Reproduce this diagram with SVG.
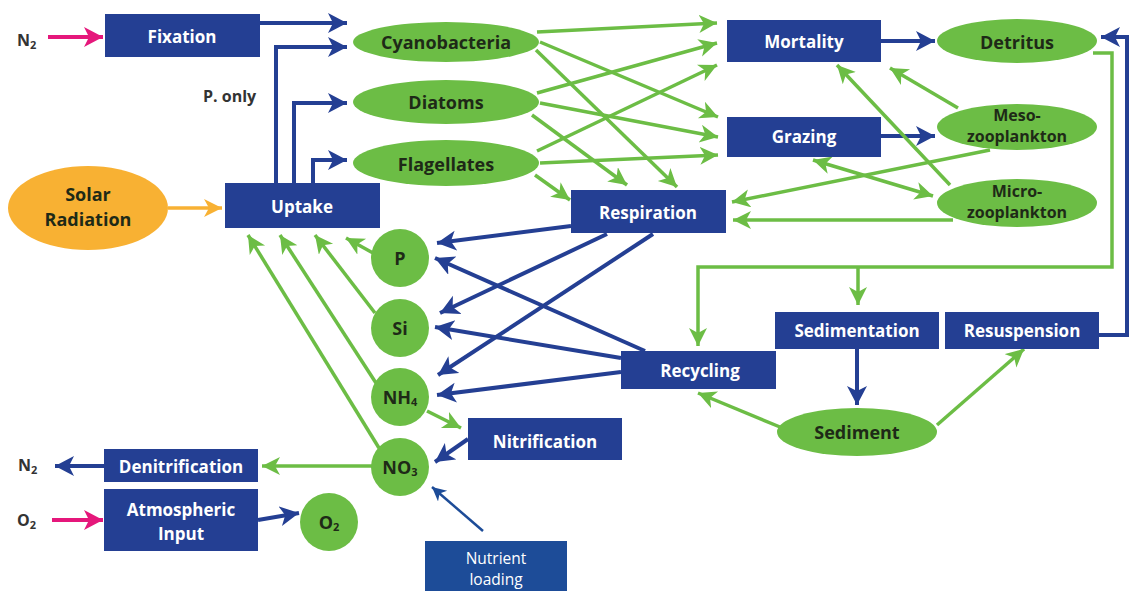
<svg xmlns="http://www.w3.org/2000/svg" width="1130" height="591" viewBox="0 0 1130 591">
<style>
.box{fill:#243f93}
.ell{fill:#6cbd45}
.bt{fill:#fff;font-family:"Open Sans",sans-serif;font-weight:700;font-size:17px;text-anchor:middle;dominant-baseline:central}
.et{fill:#1e2a17;font-family:"Open Sans",sans-serif;font-weight:700;font-size:18px;text-anchor:middle;dominant-baseline:central}
.zt{fill:#1e2a17;font-family:"Open Sans",sans-serif;font-weight:700;font-size:16px;text-anchor:middle;dominant-baseline:central}
.lt{fill:#333;font-family:"Open Sans",sans-serif;font-weight:700;font-size:16px;dominant-baseline:central}
.g{stroke:#6cbd45;stroke-width:3.5;fill:none}
.b{stroke:#243f93;stroke-width:4;fill:none}
.bthin{stroke:#1d4c98;stroke-width:2.5;fill:none}
.p{stroke:#e5177b;stroke-width:4;fill:none}
.o{stroke:#f8b133;stroke-width:3.5;fill:none}
</style>
<defs>
<marker id="mg" markerUnits="userSpaceOnUse" markerWidth="20" markerHeight="20" refX="18" refY="9" orient="auto-start-reverse"><path d="M0,0 L18,9 L0,18 L5,9 z" fill="#6cbd45"/></marker>
<marker id="mb" markerUnits="userSpaceOnUse" markerWidth="22" markerHeight="22" refX="19" refY="10" orient="auto"><path d="M0,0 L19,10 L0,20 L5,10 z" fill="#243f93"/></marker>
<marker id="mbt" markerUnits="userSpaceOnUse" markerWidth="16" markerHeight="16" refX="14" refY="7" orient="auto"><path d="M0,0 L14,7 L0,14 L4,7 z" fill="#1d4c98"/></marker>
<marker id="mp" markerUnits="userSpaceOnUse" markerWidth="22" markerHeight="22" refX="19" refY="10" orient="auto"><path d="M0,0 L19,10 L0,20 L5,10 z" fill="#e5177b"/></marker>
<marker id="mo" markerUnits="userSpaceOnUse" markerWidth="20" markerHeight="20" refX="18" refY="9" orient="auto"><path d="M0,0 L18,9 L0,18 L5,9 z" fill="#f8b133"/></marker>
</defs>
<rect width="1130" height="591" fill="#fff"/>

<g id="connectors">
<!-- external inputs -->
<path class="p" d="M48,37 L103,37" marker-end="url(#mp)"/>
<path class="p" d="M52,520 L103,520" marker-end="url(#mp)"/>
<path class="o" d="M168,208 L222,208" marker-end="url(#mo)"/>
<!-- blue -->
<path class="b" d="M260,23 L347,23" marker-end="url(#mb)"/>
<path class="b" d="M276,183 L276,47 L347,47" marker-end="url(#mb)"/>
<path class="b" d="M294,183 L294,103 L347,103" marker-end="url(#mb)"/>
<path class="b" d="M313,183 L313,160 L347,160" marker-end="url(#mb)"/>
<path class="b" d="M881,41 L935,41" marker-end="url(#mb)"/>
<path class="b" d="M881,136 L935,136" marker-end="url(#mb)"/>
<path class="b" d="M1099,335 L1127,335 L1127,37 L1101,37" marker-end="url(#mb)"/>
<path class="b" d="M857,349 L857,405" marker-end="url(#mb)"/>
<path class="b" d="M571,226 L437,243" marker-end="url(#mb)"/>
<path class="b" d="M607,234 L440,313" marker-end="url(#mb)"/>
<path class="b" d="M653,234 L438,375" marker-end="url(#mb)"/>
<path class="b" d="M645,351 L435,258" marker-end="url(#mb)"/>
<path class="b" d="M621,358 L435,327" marker-end="url(#mb)"/>
<path class="b" d="M621,372 L437,395" marker-end="url(#mb)"/>
<path class="b" d="M468,439 L435,462" marker-end="url(#mb)"/>
<path class="b" d="M104,466 L55,466" marker-end="url(#mb)"/>
<path class="b" d="M258,520 L299,513" marker-end="url(#mb)"/>
<path class="bthin" d="M483,531 L432,487" marker-end="url(#mbt)"/>
<!-- green: phytoplankton outputs -->
<path class="g" d="M537,32 L717,23" marker-end="url(#mg)"/>
<path class="g" d="M540,42 L718,117" marker-end="url(#mg)"/>
<path class="g" d="M536,50 L677,187" marker-end="url(#mg)"/>
<path class="g" d="M537,93 L717,43" marker-end="url(#mg)"/>
<path class="g" d="M540,103 L718,137" marker-end="url(#mg)"/>
<path class="g" d="M532,115 L627,185" marker-end="url(#mg)"/>
<path class="g" d="M537,151 L717,65" marker-end="url(#mg)"/>
<path class="g" d="M540,163 L718,155" marker-end="url(#mg)"/>
<path class="g" d="M535,175 L570,200" marker-end="url(#mg)"/>
<!-- green: zooplankton -->
<path class="g" d="M958,108 L890,68" marker-end="url(#mg)"/>
<path class="g" d="M950,185 L837,65" marker-end="url(#mg)"/>
<path class="g" d="M990,150 L732,202" marker-end="url(#mg)"/>
<path class="g" d="M953,220 L733,220" marker-end="url(#mg)"/>
<path class="g" d="M813,160 L933,196" marker-start="url(#mg)" marker-end="url(#mg)"/>
<!-- green: detritus loop -->
<path class="g" d="M1093,53 L1112,53 L1112,267 L698,267 L698,346" marker-end="url(#mg)"/>
<path class="g" d="M858,267 L858,305" marker-end="url(#mg)"/>
<path class="g" d="M780,427 L698,393" marker-end="url(#mg)"/>
<path class="g" d="M937,425 L1024,349" marker-end="url(#mg)"/>
<!-- green: nutrients -->
<path class="g" d="M373,253 L346,238" marker-end="url(#mg)"/>
<path class="g" d="M375,313 L315,235" marker-end="url(#mg)"/>
<path class="g" d="M376,383 L280,235" marker-end="url(#mg)"/>
<path class="g" d="M379,448 L248,235" marker-end="url(#mg)"/>
<path class="g" d="M427,411 L461,428" marker-end="url(#mg)"/>
<path class="g" d="M372,466 L262,466" marker-end="url(#mg)"/>
</g>

<g id="labels">
<text class="lt" x="17" y="40">N<tspan font-size="11" dy="4">2</tspan></text>
<text class="lt" x="18" y="465">N<tspan font-size="11" dy="4">2</tspan></text>
<text class="lt" x="17" y="520">O<tspan font-size="11" dy="4">2</tspan></text>
<text class="lt" x="203" y="96" font-weight="600">P. only</text>
</g>

<g id="n-fixation"><rect class="box" x="105" y="14" width="155" height="43"/><text class="bt" x="182" y="36">Fixation</text></g>
<g id="n-uptake"><rect class="box" x="225" y="183" width="155" height="45"/><text class="bt" x="302" y="206">Uptake</text></g>
<g id="n-mortality"><rect class="box" x="727" y="20" width="154" height="42"/><text class="bt" x="804" y="41">Mortality</text></g>
<g id="n-grazing"><rect class="box" x="727" y="117" width="154" height="40"/><text class="bt" x="804" y="136">Grazing</text></g>
<g id="n-respiration"><rect class="box" x="571" y="190" width="155" height="43"/><text class="bt" x="648" y="212">Respiration</text></g>
<g id="n-recycling"><rect class="box" x="621" y="351" width="155" height="38"/><text class="bt" x="700" y="370">Recycling</text></g>
<g id="n-sedimentation"><rect class="box" x="775" y="312" width="164" height="37"/><text class="bt" x="857" y="330">Sedimentation</text></g>
<g id="n-resuspension"><rect class="box" x="945" y="312" width="154" height="37"/><text class="bt" x="1022" y="330">Resuspension</text></g>
<g id="n-nitrification"><rect class="box" x="468" y="418" width="154" height="42"/><text class="bt" x="545" y="441">Nitrification</text></g>
<g id="n-denitrification"><rect class="box" x="104" y="449" width="154" height="33"/><text class="bt" x="181" y="466">Denitrification</text></g>
<g id="n-atmospheric"><rect class="box" x="104" y="489" width="154" height="62"/><text class="bt" x="181" y="509">Atmospheric</text><text class="bt" x="181" y="533">Input</text></g>
<g id="n-nutrient"><rect x="425" y="541" width="142" height="50" fill="#1d4c98"/><text x="496" y="558" fill="#fff" font-family="'Open Sans',sans-serif" font-size="15.5" text-anchor="middle" dominant-baseline="central">Nutrient</text><text x="496" y="579" fill="#fff" font-family="'Open Sans',sans-serif" font-size="15.5" text-anchor="middle" dominant-baseline="central">loading</text></g>

<g id="n-solar"><ellipse cx="88" cy="208" rx="80" ry="42" fill="#f8b133"/><text class="et" x="88" y="194" font-size="18.5">Solar</text><text class="et" x="88" y="219" font-size="18.5">Radiation</text></g>
<g id="n-cyano"><ellipse class="ell" cx="446" cy="42" rx="93" ry="20"/><text class="et" x="446" y="42">Cyanobacteria</text></g>
<g id="n-diatoms"><ellipse class="ell" cx="446" cy="102" rx="93" ry="22"/><text class="et" x="446" y="102">Diatoms</text></g>
<g id="n-flagellates"><ellipse class="ell" cx="446" cy="163" rx="93" ry="23"/><text class="et" x="446" y="164">Flagellates</text></g>
<g id="n-detritus"><ellipse class="ell" cx="1017" cy="41" rx="80" ry="22"/><text class="et" x="1017" y="42">Detritus</text></g>
<g id="n-meso"><ellipse class="ell" cx="1017" cy="127" rx="80" ry="23"/><text class="zt" x="1017" y="115">Meso-</text><text class="zt" x="1017" y="136">zooplankton</text></g>
<g id="n-micro"><ellipse class="ell" cx="1017" cy="203" rx="80" ry="24"/><text class="zt" x="1017" y="191">Micro-</text><text class="zt" x="1017" y="212">zooplankton</text></g>
<g id="n-sediment"><ellipse class="ell" cx="857" cy="432" rx="80" ry="24"/><text class="et" x="857" y="432">Sediment</text></g>
<g id="n-p"><circle class="ell" cx="400" cy="258" r="29"/><text class="et" x="400" y="258">P</text></g>
<g id="n-si"><circle class="ell" cx="400" cy="328" r="29"/><text class="et" x="400" y="328">Si</text></g>
<g id="n-nh4"><circle class="ell" cx="400" cy="397" r="29"/><text class="et" x="400" y="397" font-size="17">NH<tspan font-size="11" dy="4">4</tspan></text></g>
<g id="n-no3"><circle class="ell" cx="400" cy="467" r="29"/><text class="et" x="400" y="467" font-size="17">NO<tspan font-size="11" dy="4">3</tspan></text></g>
<g id="n-o2"><circle class="ell" cx="329" cy="522" r="29"/><text class="et" x="329" y="522" font-size="17">O<tspan font-size="11" dy="4">2</tspan></text></g>
</svg>
